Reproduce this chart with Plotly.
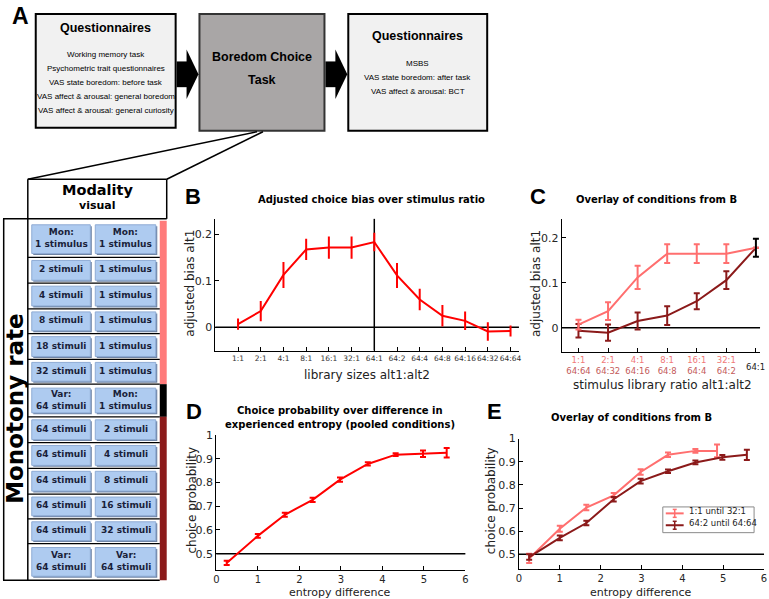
import plotly.graph_objects as go

W, H = 769, 599
def X(p): return p / W
def Y(p): return 1 - p / H

# ---------------- data ----------------
b_labels = ["1:1", "2:1", "4:1", "8:1", "16:1", "32:1", "64:1",
            "64:2", "64:4", "64:8", "64:16", "64:32", "64:64"]
b_bias = [0.007, 0.035, 0.113, 0.168, 0.172, 0.172, 0.184,
          0.112, 0.060, 0.025, 0.014, -0.009, -0.008]
b_err = [0.012, 0.022, 0.028, 0.023, 0.024, 0.024, 0.020,
         0.027, 0.023, 0.023, 0.020, 0.020, 0.012]

c_top = ["1:1", "2:1", "4:1", "8:1", "16:1", "32:1"]
c_bot = ["64:64", "64:32", "64:16", "64:8", "64:4", "64:2"]
c_end = "64:1"
c_light = [0.007, 0.037, 0.112, 0.165, 0.165, 0.165, 0.178]
c_light_err = [0.011, 0.020, 0.026, 0.021, 0.021, 0.021, 0.0]
c_dark = [-0.007, -0.011, 0.015, 0.027, 0.059, 0.106, 0.178]
c_dark_err = [0.015, 0.018, 0.019, 0.021, 0.018, 0.020, 0.0]
c_end_err = 0.02

d_x = [0.25, 1.0, 1.65, 2.32, 2.98, 3.65, 4.32, 4.98, 5.55]
d_p = [0.461, 0.575, 0.664, 0.727, 0.812, 0.878, 0.917, 0.921, 0.925]
d_err = [0.009, 0.008, 0.008, 0.009, 0.009, 0.007, 0.006, 0.014, 0.02]

e_names = ["1:1 until 32:1", "64:2 until 64:64"]
e_x_light = [0.25, 1.0, 1.65, 2.32, 2.98, 3.65, 4.32, 4.85]
e_light = [0.482, 0.610, 0.702, 0.755, 0.856, 0.930, 0.947, 0.947]
e_light_err = [0.02, 0.013, 0.012, 0.010, 0.012, 0.010, 0.008, 0.028]
e_x_dark = [0.25, 1.0, 1.65, 2.32, 2.98, 3.65, 4.32, 4.98, 5.58]
e_dark = [0.488, 0.571, 0.635, 0.738, 0.816, 0.859, 0.897, 0.919, 0.930]
e_dark_err = [0.012, 0.010, 0.010, 0.010, 0.010, 0.008, 0.008, 0.010, 0.022]

rows = [("Mon:<br>1 stimulus", "Mon:<br>1 stimulus"), ("2 stimuli", "1 stimulus"),
        ("4 stimuli", "1 stimulus"), ("8 stimuli", "1 stimulus"),
        ("18 stimuli", "1 stimulus"), ("32 stimuli", "1 stimulus"),
        ("Var:<br>64 stimuli", "Mon:<br>1 stimulus"), ("64 stimuli", "2 stimuli"),
        ("64 stimuli", "4 stimuli"), ("64 stimuli", "8 stimuli"),
        ("64 stimuli", "16 stimuli"), ("64 stimuli", "32 stimuli"),
        ("Var:<br>64 stimuli", "Var:<br>64 stimuli")]
row_edges = [217, 254, 280, 306, 331, 357, 382, 415, 441, 467, 493, 518, 543, 580]

pre_lines = ["Working memory task", "Psychometric trait questionnaires",
             "VAS state boredom: before task", "VAS affect & arousal: general boredom",
             "VAS affect & arousal: general curiosity"]
post_lines = ["MSBS", "VAS state boredom: after task", "VAS affect & arousal: BCT"]

LIGHT = "#ff6f6f"
DARK = "#8b1a1a"
FT = "DejaVu Sans"
SANS = "Liberation Sans, Arial"

fig = go.Figure()

# ---------------- traces ----------------
fig.add_trace(go.Scatter(x=list(range(len(b_labels))), y=b_bias, mode="lines",
                         line=dict(color="red", width=2),
                         error_y=dict(type="data", array=b_err, width=0, thickness=2, color="red"),
                         xaxis="x", yaxis="y", showlegend=False))

fig.add_trace(go.Scatter(x=list(range(7)), y=c_dark, mode="lines",
                         line=dict(color=DARK, width=2),
                         error_y=dict(type="data", array=c_dark_err, width=3, thickness=2, color=DARK),
                         xaxis="x2", yaxis="y2", showlegend=False))
fig.add_trace(go.Scatter(x=list(range(7)), y=c_light, mode="lines",
                         line=dict(color=LIGHT, width=2),
                         error_y=dict(type="data", array=c_light_err, width=3, thickness=2, color=LIGHT),
                         xaxis="x2", yaxis="y2", showlegend=False))
fig.add_trace(go.Scatter(x=[6], y=[c_light[-1]], mode="markers", marker=dict(size=1, color="black"),
                         error_y=dict(type="data", array=[c_end_err], width=3, thickness=2, color="black"),
                         xaxis="x2", yaxis="y2", showlegend=False))

fig.add_trace(go.Scatter(x=d_x, y=d_p, mode="lines", line=dict(color="red", width=2),
                         error_y=dict(type="data", array=d_err, width=3, thickness=2, color="red"),
                         xaxis="x3", yaxis="y3", showlegend=False))

fig.add_trace(go.Scatter(x=e_x_light, y=e_light, mode="lines", name=e_names[0],
                         line=dict(color=LIGHT, width=2), showlegend=False,
                         error_y=dict(type="data", array=e_light_err, width=3, thickness=2, color=LIGHT),
                         xaxis="x4", yaxis="y4"))
fig.add_trace(go.Scatter(x=e_x_dark, y=e_dark, mode="lines", name=e_names[1],
                         line=dict(color=DARK, width=2), showlegend=False,
                         error_y=dict(type="data", array=e_dark_err, width=3, thickness=2, color=DARK),
                         xaxis="x4", yaxis="y4"))

# ---------------- axes ----------------
def ax(**kw):
    base = dict(showline=True, linecolor="black", linewidth=1, ticks="inside", ticklen=4,
                tickcolor="black", showgrid=False, zeroline=False, tickangle=0,
                tickfont=dict(family=FT, size=11, color="#262626"))
    base.update(kw)
    return base

c_ticktext = ["<span style='color:#f07878'>%s</span><br><span style='color:#c45a5a'>%s</span>" % (t, b)
              for t, b in zip(c_top, c_bot)]

fig.update_layout(
    xaxis=ax(domain=[X(214), X(520)], range=[-1, 12.37], anchor="y",
             tickvals=list(range(13)), ticktext=b_labels,
             tickfont=dict(family=FT, size=7.5, color="#333")),
    yaxis=ax(domain=[Y(348), Y(215)], range=[-0.05, 0.234], anchor="x",
             tickvals=[0, 0.1, 0.2], ticktext=["0", "0.1", "0.2"]),
    xaxis2=ax(domain=[X(563), X(763)], range=[-0.57, 6.14], anchor="y2",
              tickvals=list(range(7)), ticktext=c_ticktext + [""],
              tickfont=dict(family=FT, size=8.5, color="#222")),
    yaxis2=ax(domain=[Y(349), Y(215)], range=[-0.053, 0.2425], anchor="x2",
              tickvals=[0, 0.1, 0.2], ticktext=["0", "0.1", "0.2"]),
    xaxis3=ax(domain=[X(215), X(466)], range=[0, 6], anchor="y3",
              tickvals=list(range(7)), tickfont=dict(family=FT, size=10, color="#262626")),
    yaxis3=ax(domain=[Y(569.3), Y(433.3)], range=[0.433, 1.0], anchor="x3",
              tickvals=[0.5, 0.6, 0.7, 0.8, 0.9, 1.0],
              ticktext=["0.5", "0.6", "0.7", "0.8", "0.9", "1"]),
    xaxis4=ax(domain=[X(520), X(767)], range=[0, 6], anchor="y4",
              tickvals=list(range(7)), tickfont=dict(family=FT, size=10, color="#262626")),
    yaxis4=ax(domain=[Y(568.3), Y(437)], range=[0.438, 1.0], anchor="x4",
              tickvals=[0.5, 0.6, 0.7, 0.8, 0.9, 1.0],
              ticktext=["0.5", "0.6", "0.7", "0.8", "0.9", "1"]),
)

shapes = []
ann = []
DY = -2

def line(x0, y0, x1, y1, color="black", w=1, **kw):
    d = dict(type="line", xref="paper", yref="paper", x0=X(x0), y0=Y(y0), x1=X(x1), y1=Y(y1),
             line=dict(color=color, width=w))
    d.update(kw)
    shapes.append(d)

def rect(x0, y0, x1, y1, fill, lc="black", w=1):
    shapes.append(dict(type="rect", xref="paper", yref="paper", x0=X(x0), y0=Y(y1), x1=X(x1), y1=Y(y0),
                       fillcolor=fill, line=dict(color=lc, width=w)))

def text(x, y, s, size=11, family=FT, color="black", bold=False, angle=0, xanchor="center", xref="paper"):
    off = DY - (3 if family == SANS else 0)
    ann.append(dict(xref=xref, yref="paper", x=X(x) if xref == "paper" else x, y=Y(y + off),
                    text=("<b>%s</b>" % s) if bold else s,
                    showarrow=False, font=dict(family=family, size=size, color=color),
                    xanchor=xanchor, yanchor="middle", textangle=angle, borderpad=0))

# reference lines in plots
shapes.append(dict(type="line", xref="x domain", yref="y", x0=0, x1=1, y0=0, y1=0,
                   line=dict(color="black", width=1.5), layer="below"))
shapes.append(dict(type="line", xref="x", yref="y domain", x0=6, x1=6, y0=0, y1=1,
                   line=dict(color="black", width=1.5), layer="below"))
shapes.append(dict(type="line", xref="x2 domain", yref="y2", x0=0, x1=1, y0=0, y1=0,
                   line=dict(color="black", width=1.5), layer="below"))
shapes.append(dict(type="line", xref="x3 domain", yref="y3", x0=0, x1=1, y0=0.5, y1=0.5,
                   line=dict(color="black", width=1.5), layer="below"))
shapes.append(dict(type="line", xref="x4 domain", yref="y4", x0=0, x1=1, y0=0.5, y1=0.5,
                   line=dict(color="black", width=1.5), layer="below"))

# C: end tick label placed on the axis scale
text(6, 367, c_end, size=8.5, color="#222", xref="x2")

# ---------------- panel A top ----------------
rect(33, 8, 174, 123, "#f1f1f1", w=2)
rect(198, 8, 324, 126, "#a9a6a6", lc="#333", w=2)
rect(348, 8, 488, 126, "#f1f1f1", w=2)
for ax0 in (175, 325):
    rect(ax0, 56, ax0 + 11, 82, "black", lc="black", w=0)
    shapes.append(dict(type="path", xref="paper", yref="paper",
                       path="M %f %f L %f %f L %f %f Z" % (X(ax0 + 10), Y(44), X(ax0 + 22), Y(69), X(ax0 + 10), Y(94)),
                       fillcolor="black", line=dict(color="black", width=0)))

text(103.5, 27, "Questionnaires", size=12.5, family=SANS, bold=True)
for i, s in enumerate(pre_lines):
    text(103.5, 53.5 + i * 14.2, s, size=8, family=SANS)
text(261, 57, "Boredom Choice", size=12.5, family=SANS, bold=True)
text(261, 80, "Task", size=12.5, family=SANS, bold=True)
text(418, 35, "Questionnaires", size=12.5, family=SANS, bold=True)
for i, s in enumerate(post_lines):
    text(418, 63 + i * 14, s, size=8, family=SANS)

# connecting lines
line(25, 175, 256, 127, w=1.5)
line(165, 175, 262, 127, w=1.5)

# ---------------- modality / monotony panel ----------------
line(25, 175, 165, 175, w=1.5)
line(165, 175, 165, 215, w=1.5)
line(0, 215, 165, 215, w=1.5)
line(25, 175, 25, 580, w=1.5)
line(0.7, 215, 0.7, 580, w=1.5)
line(0, 580, 158, 580, w=1.5)
text(95, 188, "Modality", size=14.5, bold=True)
text(95, 204, "visual", size=11, bold=True)
text(12, 408, "Monotony rate", size=23, bold=True, angle=-90)

# colour bar
rect(158, 217, 165, 382, "#ff7b7b", lc="#ff7b7b", w=0)
rect(158, 382, 165, 415, "black", lc="black", w=0)
rect(158, 415, 165, 580, DARK, lc=DARK, w=0)

for i, (l, r) in enumerate(rows):
    top, bot = row_edges[i], row_edges[i + 1]
    if i > 0:
        line(25, top, 158, top, w=1.2)
    pad = 4 if "<br>" in l else 3
    for (x0, x1, s) in ((29, 88, l), (93, 154, r)):
        rect(x0 + 1.5, top + pad + 1.5, x1 + 1.5, bot - pad + 1.5, "#6f84a4", lc="#6f84a4", w=0)
        rect(x0, top + pad, x1, bot - pad, "#aecbf0", lc="#8eabd4", w=1)
        text((x0 + x1) / 2, (top + bot) / 2 + 1, s, size=9, bold=True, color="#1a1f3a")

# ---------------- panel letters and titles ----------------
text(18, 15, "A", size=23, family=SANS, bold=True)
text(191, 197, "B", size=22, family=SANS, bold=True)
text(539, 197, "C", size=22, family=SANS, bold=True)
text(192, 415, "D", size=22, family=SANS, bold=True)
text(495, 415, "E", size=22, family=SANS, bold=True)

text(371, 197, "Adjusted choice bias over stimulus ratio", size=10, bold=True)
text(659, 197, "Overlay of conditions from B", size=10, bold=True)
text(340, 411, "Choice probability over difference in", size=10, bold=True)
text(340, 425, "experienced entropy (pooled conditions)", size=10, bold=True)
text(633, 418, "Overlay of conditions from B", size=10, bold=True)

# axis titles
text(367, 375, "library sizes alt1:alt2", size=12, color="#222")
text(189, 282, "adjusted bias alt1", size=12, color="#222", angle=-90)
text(665, 385, "stimulus library ratio alt1:alt2", size=12, color="#222")
text(537, 282, "adjusted bias alt1", size=12, color="#222", angle=-90)
text(340, 594, "entropy difference", size=11, color="#222")
text(190, 501, "choice probability", size=12, color="#222", angle=-90)
text(643, 594, "entropy difference", size=11, color="#222")
text(492, 502, "choice probability", size=12, color="#222", angle=-90)

# legend of panel E
rect(665, 506, 757, 532, "white", lc="#8a8a8a", w=1)
for yy, col, name in ((512.5, LIGHT, e_names[0]), (524.5, DARK, e_names[1])):
    line(668, yy, 686, yy, color=col, w=2)
    line(677, yy - 4, 677, yy + 4, color=col, w=1.5)
    line(675, yy - 4, 679, yy - 4, color=col, w=1.5)
    line(675, yy + 4, 679, yy + 4, color=col, w=1.5)
    text(690, yy, name, size=8.5, color="#222", xanchor="left")

fig.update_layout(
    width=W, height=H, margin=dict(l=0, r=0, t=0, b=0),
    paper_bgcolor="white", plot_bgcolor="white",
    shapes=shapes, annotations=ann, showlegend=False,
    font=dict(family=FT),
)

fig.write_html("out.html", config={"displayModeBar": False},
               post_script="document.body.style.margin='0';document.body.style.padding='0';")
